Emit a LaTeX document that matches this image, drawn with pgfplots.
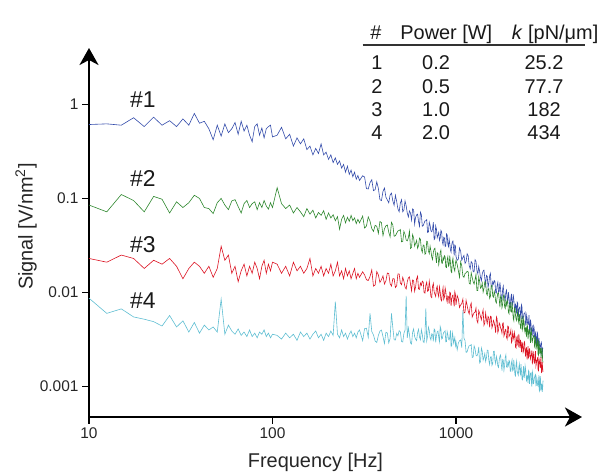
\documentclass[border=0pt]{standalone}
\usepackage{fontspec}
\setmainfont{Liberation Sans}
\usepackage{pgfplots}
\pgfplotsset{compat=1.18}
\usepackage{pgfplotstable}
\usetikzlibrary{arrows.meta}
\definecolor{cb}{RGB}{50,75,170}
\definecolor{cg}{RGB}{45,135,45}
\definecolor{cr}{RGB}{220,20,35}
\definecolor{cc}{RGB}{95,190,210}
\pgfplotstableread{
f b g r c
10 0.61 0.085 0.023 0.0087
12.5 0.62 0.072 0.021 0.0060
15 0.60 0.110 0.025 0.0067
17.5 0.72 0.095 0.023 0.0055
20 0.58 0.072 0.018 0.0052
22.5 0.73 0.105 0.022 0.0049
25 0.60 0.098 0.020 0.0044
27.5 0.67 0.070 0.023 0.0057
30 0.58 0.092 0.019 0.0043
32.5 0.70 0.080 0.014 0.0050
35 0.60 0.090 0.018 0.0038
37.5 0.80 0.108 0.021 0.0048
40 0.63 0.100 0.019 0.0037
42.5 0.66 0.080 0.016 0.0045
45 0.55 0.078 0.019 0.0040
47.5 0.42 0.069 0.0145 0.0043
50 0.60 0.090 0.018 0.0038
52.5 0.46 0.100 0.031 0.0085
55 0.62 0.085 0.022 0.0036
57.5 0.50 0.076 0.025 0.0045
60 0.55 0.094 0.016 0.0039
62.5 0.64 0.097 0.019 0.0036
65 0.48 0.082 0.013 0.0041
67.5 0.66 0.070 0.017 0.0035
70 0.52 0.088 0.020 0.0038
72.5 0.60 0.095 0.015 0.0034
75 0.47 0.080 0.019 0.0040
77.5 0.40 0.088 0.016 0.0034
80 0.58 0.092 0.021 0.0037
82.5 0.62 0.076 0.018 0.0033
85 0.47 0.090 0.014 0.0038
87.5 0.56 0.080 0.019 0.0036
90 0.44 0.095 0.022 0.0040
92.5 0.55 0.083 0.016 0.0034
95 0.58 0.077 0.020 0.0037
97.5 0.60 0.090 0.017 0.0033
100 0.45 0.080 0.021 0.0036
106 0.47 0.130 0.020 0.0035
112 0.57 0.088 0.016 0.0032
118 0.43 0.078 0.019 0.0037
124 0.48 0.085 0.015 0.0033
130 0.36 0.070 0.021 0.0036
136 0.44 0.080 0.017 0.0031
142 0.38 0.072 0.019 0.0038
148 0.43 0.064 0.016 0.0034
154 0.33 0.078 0.018 0.0037
160 0.36 0.068 0.023 0.0032
166 0.29 0.075 0.015 0.0036
172 0.34 0.062 0.018 0.0039
178 0.30 0.071 0.016 0.0033
184 0.38 0.066 0.019 0.0036
190 0.29 0.074 0.015 0.0031
196 0.31 0.060 0.018 0.0037
202 0.26 0.070 0.016 0.0034
208 0.29 0.062 0.020 0.0039
214 0.24 0.067 0.015 0.0035
220 0.27 0.058 0.017 0.0080
226 0.23 0.064 0.021 0.0036
232 0.25 0.047 0.015 0.0033
238 0.21 0.060 0.017 0.0040
244 0.23 0.066 0.014 0.0034
250 0.19 0.055 0.018 0.0037
256 0.22 0.063 0.015 0.0032
262 0.18 0.057 0.017 0.0036
268 0.20 0.066 0.014 0.0039
274 0.17 0.058 0.016 0.0034
280 0.19 0.062 0.018 0.0037
286 0.16 0.054 0.014 0.0033
292 0.175 0.060 0.016 0.0038
298 0.155 0.055 0.0145 0.0040
310 0.174 0.0649 0.0166 0.00308
317.5 0.169 0.0484 0.0154 0.00413
325 0.127 0.0508 0.0137 0.00417
332.5 0.126 0.0637 0.0134 0.00333
340 0.147 0.0572 0.0148 0.0060
347.5 0.158 0.0478 0.0174 0.00385
355 0.121 0.0446 0.0117 0.00354
362.5 0.124 0.0518 0.0120 0.00305
370 0.150 0.0505 0.0167 0.00294
377.5 0.128 0.0424 0.0154 0.0035
385 0.097 0.0568 0.0128 0.00389
392.5 0.0948 0.0553 0.0137 0.00399
400 0.119 0.0402 0.0150 0.00340
407.5 0.129 0.0475 0.0123 0.00287
415 0.103 0.0512 0.0133 0.00378
422.5 0.0965 0.0522 0.0161 0.00371
430 0.0898 0.0437 0.0159 0.00291
437.5 0.109 0.0390 0.0124 0.00326
445 0.114 0.0557 0.0117 0.0060
452.5 0.0941 0.0524 0.0140 0.00424
460 0.0846 0.0396 0.0140 0.00315
467.5 0.108 0.0401 0.0113 0.00312
475 0.0927 0.0426 0.0118 0.00368
482.5 0.0774 0.0452 0.0158 0.00347
490 0.0722 0.0456 0.0158 0.00392
497.5 0.0894 0.0468 0.0126 0.00382
505 0.0968 0.0345 0.0121 0.00301
512.5 0.0722 0.0349 0.0145 0.00298
520 0.0751 0.0446 0.0132 0.00368
527.5 0.0940 0.0415 0.0114 0.00396
535 0.0836 0.0362 0.0109 0.0092
542.5 0.0699 0.0354 0.0130 0.00329
550 0.0635 0.0381 0.0143 0.0042
557.5 0.0737 0.0449 0.0147 0.00357
565 0.0700 0.0294 0.0123 0.00291
572.5 0.0588 0.0301 0.0104 0.00284
580 0.0775 0.0413 0.0136 0.00378
587.5 0.0755 0.0381 0.0134 0.0041
595 0.0533 0.0312 0.0103 0.00340
602.5 0.0631 0.0333 0.0115 0.00319
610 0.0668 0.0358 0.0140 0.00308
617.5 0.0680 0.0295 0.0149 0.00375
625 0.0567 0.0314 0.0109 0.00406
632.5 0.0506 0.0379 0.0108 0.00336
640 0.0714 0.0367 0.0126 0.00315
647.5 0.0673 0.0287 0.0119 0.00403
655 0.0507 0.0267 0.0132 0.00361
662.5 0.0513 0.0320 0.0129 0.00301
670 0.0545 0.0316 0.00998 0.00294
677.5 0.0578 0.0255 0.00986 0.00364
685 0.0578 0.0261 0.0120 0.0068
692.5 0.0594 0.0350 0.0129 0.00308
700 0.0434 0.0345 0.0103 0.00342
707.5 0.0439 0.0276 0.0105 0.00428
715 0.0559 0.0259 0.0132 0.00396
722.5 0.0520 0.0310 0.0112 0.00331
730 0.0451 0.0278 0.00905 0.00313
737.5 0.0442 0.0239 0.00883 0.00364
745 0.0474 0.0224 0.0116 0.0036
752.5 0.0558 0.0267 0.0125 0.00302
760 0.0365 0.0289 0.0102 0.0041
767.5 0.0374 0.0296 0.00956 0.0040
775 0.0509 0.0244 0.00906 0.00295
782.5 0.0470 0.0207 0.0110 0.00349
790 0.0382 0.0265 0.0117 0.00382
797.5 0.0407 0.0260 0.0097 0.00389
805 0.0435 0.0198 0.0090 0.00335
812.5 0.0358 0.0222 0.0115 0.00299
820 0.0379 0.0267 0.0101 0.00436
827.5 0.0458 0.0283 0.00843 0.0041
835 0.0443 0.0206 0.00815 0.0032
842.5 0.0347 0.0204 0.0101 0.00324
850 0.0323 0.0235 0.0113 0.00356
857.5 0.0386 0.0222 0.00845 0.00378
865 0.0380 0.0246 0.00893 0.00382
872.5 0.0307 0.0240 0.0112 0.00392
880 0.0312 0.0186 0.0102 0.00298
887.5 0.0419 0.0184 0.00856 0.00301
895 0.0411 0.0223 0.00792 0.00384
902.5 0.0328 0.0240 0.00919 0.00357
910 0.0308 0.0191 0.0090 0.0032
917.5 0.0369 0.0196 0.00756 0.00313
925 0.0330 0.0246 0.0101 0.00337
932.5 0.0284 0.0209 0.00988 0.00396
940 0.0269 0.0167 0.00722 0.00267
947.5 0.0320 0.0163 0.00854 0.00274
955 0.0344 0.0214 0.00922 0.00374
962.5 0.0353 0.0232 0.0094 0.00346
970 0.0293 0.0189 0.0080 0.00291
977.5 0.0248 0.0177 0.00714 0.0031
985 0.0320 0.0169 0.0102 0.00332
992.5 0.0314 0.0205 0.00958 0.00273
1000 0.0241 0.0220 0.00739 0.00298
1015 0.0220 0.0198 0.00928 0.00246
1030 0.0226 0.0170 0.00856 0.00291
1045 0.0298 0.0145 0.00693 0.00307
1060 0.0275 0.0212 0.00739 0.00313
1075 0.0220 0.0192 0.00762 0.0026
1090 0.0235 0.0150 0.00851 0.0065
1105 0.0248 0.0145 0.00605 0.00327
1120 0.0204 0.0159 0.00619 0.00308
1135 0.0213 0.0162 0.00826 0.00231
1150 0.0258 0.0168 0.00728 0.00234
1165 0.0246 0.0166 0.00637 0.00257
1180 0.0193 0.0126 0.0059 0.00273
1195 0.0178 0.0123 0.00715 0.00273
1210 0.0213 0.0162 0.00774 0.0028
1225 0.0206 0.0145 0.00548 0.00204
1240 0.0166 0.0130 0.0058 0.00206
1255 0.0166 0.0123 0.0061 0.00271
1270 0.0223 0.0137 0.00616 0.00252
1285 0.0214 0.0156 0.00684 0.00216
1300 0.0171 0.0105 0.00504 0.00212
1315 0.0158 0.0105 0.00476 0.00224
1330 0.0189 0.0147 0.00644 0.00264
1345 0.0167 0.0132 0.00604 0.00178
1360 0.0144 0.0111 0.00553 0.00183
1375 0.0133 0.0114 0.00512 0.00257
1390 0.0158 0.0126 0.00594 0.00238
1405 0.0169 0.0101 0.00653 0.00191
1420 0.0173 0.0110 0.00448 0.00204
1435 0.0142 0.0130 0.00472 0.00225
1450 0.0120 0.0129 0.00604 0.00185
1465 0.0152 0.00981 0.00515 0.00202
1480 0.0149 0.00937 0.00468 0.00244
1495 0.0113 0.0109 0.00556 0.00242
1510 0.0126 0.0110 0.00536 0.00189
1525 0.0150 0.00865 0.00425 0.00172
1540 0.0160 0.00906 0.0056 0.00206
1555 0.0115 0.0118 0.00554 0.00208
1570 0.0114 0.0119 0.00421 0.00168
1585 0.0130 0.00922 0.00451 0.00176
1600 0.0123 0.00892 0.00504 0.00236
1615 0.0134 0.0103 0.00479 0.00238
1630 0.0131 0.0095 0.00432 0.0019
1645 0.00998 0.0080 0.00373 0.00175
1660 0.00986 0.00773 0.00552 0.00209
1675 0.0119 0.0089 0.00527 0.00192
1690 0.0128 0.00988 0.00374 0.00165
1705 0.0101 0.00992 0.0040 0.0016
1720 0.0103 0.00844 0.00475 0.0019
1735 0.0128 0.00697 0.0046 0.00211
1750 0.0109 0.00918 0.00417 0.00217
1765 0.00863 0.0088 0.00403 0.00175
1780 0.00842 0.00689 0.0037 0.00148
1795 0.0108 0.00744 0.00472 0.00194
1810 0.0117 0.00912 0.00476 0.00191
1825 0.00941 0.00944 0.00344 0.00149
1840 0.00883 0.00702 0.0036 0.00167
1855 0.00827 0.00676 0.00406 0.00205
1870 0.0101 0.00798 0.00402 0.00218
1885 0.0106 0.00733 0.00334 0.00162
1900 0.00874 0.00829 0.00319 0.0016
1915 0.00792 0.00785 0.0044 0.00179
1930 0.0101 0.00619 0.00437 0.00168
1945 0.00886 0.00595 0.0034 0.0019
1960 0.0074 0.00735 0.00352 0.00185
1975 0.00706 0.00768 0.00364 0.00146
1990 0.00874 0.00626 0.00396 0.00145
2005 0.00968 0.0062 0.00294 0.00179
2020 0.00722 0.00792 0.00305 0.00192
2035 0.0076 0.00653 0.00377 0.00147
2050 0.00952 0.00531 0.0034 0.0015
2065 0.00847 0.00502 0.0032 0.00192
2080 0.00708 0.0067 0.00376 0.00163
2095 0.00644 0.0069 0.00346 0.00133
2110 0.00747 0.00572 0.00262 0.0013
2125 0.0071 0.00519 0.00257 0.00173
2140 0.00596 0.00502 0.00329 0.00187
2155 0.00787 0.00589 0.00342 0.00146
2170 0.00766 0.00638 0.00279 0.00137
2185 0.00549 0.00509 0.0027 0.00132
2200 0.0065 0.00477 0.00363 0.00161
2215 0.00689 0.00587 0.00305 0.00174
2230 0.00702 0.00525 0.00258 0.00144
2245 0.00586 0.00421 0.00314 0.00135
2260 0.00523 0.00412 0.00277 0.00173
2275 0.00738 0.0050 0.00232 0.00144
2290 0.00695 0.00566 0.00294 0.0012
2305 0.00525 0.00405 0.00284 0.00118
2320 0.00531 0.00437 0.0023 0.00146
2335 0.00564 0.00524 0.00239 0.00165
2350 0.00599 0.00484 0.00294 0.00123
2365 0.0060 0.00396 0.0030 0.00133
2380 0.00616 0.00374 0.00235 0.00167
2395 0.00451 0.00424 0.00208 0.00154
2410 0.00456 0.0042 0.00255 0.00129
2425 0.00576 0.00336 0.00259 0.00113
2440 0.00536 0.00456 0.00194 0.00131
2455 0.0047 0.00433 0.00223 0.0013
2470 0.0046 0.0032 0.00269 0.00109
2485 0.0049 0.00369 0.00202 0.00148
2500 0.00576 0.00403 0.00209 0.00144
2515 0.00373 0.0040 0.00255 0.00107
2530 0.00382 0.00344 0.00235 0.00126
2545 0.00515 0.00291 0.00198 0.00138
2560 0.00475 0.00424 0.00211 0.0014
2575 0.00382 0.00388 0.00216 0.00112
2590 0.00407 0.00303 0.00242 0.0010
2605 0.00428 0.00297 0.00176 0.00145
2620 0.00352 0.00327 0.00181 0.00137
2635 0.00365 0.00336 0.00236 0.00107
2650 0.00441 0.00349 0.00208 0.00108
2665 0.00426 0.00347 0.0019 0.00119
2680 0.00333 0.00264 0.00176 0.00126
2695 0.0031 0.00258 0.0022 0.00131
2710 0.00371 0.00339 0.00238 0.00134
2725 0.00354 0.00305 0.00165 0.00102
2740 0.00286 0.00273 0.00175 0.00103
2755 0.00282 0.00258 0.0019 0.00124
2770 0.00378 0.00286 0.00192 0.00116
2785 0.00369 0.00324 0.00205 0.00103
2800 0.00295 0.00219 0.00151 0.00101
2815 0.00276 0.00216 0.00148 0.00112
2830 0.0033 0.00304 0.002 0.00132
2845 0.00293 0.0027 0.00191 0.00089
2860 0.00252 0.00228 0.00175 0.00091
2875 0.00235 0.00233 0.00158 0.00129
2890 0.0028 0.00257 0.00184 0.00119
2905 0.00289 0.00202 0.00206 0.00091
2920 0.00296 0.00221 0.00141 0.00097
2935 0.00243 0.00255 0.00142 0.00107
2950 0.00205 0.00253 0.00182 0.00088
2965 0.00259 0.00189 0.00158 0.00096
2980 0.00254 0.00181 0.00144 0.00116
}\psd

\begin{document}
\begin{tikzpicture}
\begin{axis}[
  at={(0,0)}, anchor=south west,
  scale only axis, width=493bp, height=369bp,
  xmode=log, ymode=log,
  xmin=10, xmax=4860, ymin=4.75e-4, ymax=3.97,
  enlargelimits=false, clip=false,
  axis lines=left,
  axis line style={line width=2.4bp, black, -{Stealth[length=17bp,width=19bp,inset=5bp]}},
  tick align=outside,
  major tick length=7bp,
  xminorticks=false, yminorticks=false,
  tick style={line width=1.6bp, black},
  xtick={10,100,1000}, xticklabels={10,100,1000},
  ytick={0.001,0.01,0.1,1}, yticklabels={0.001,0.01,0.1,1},
  /pgf/number format/assume math mode=true,
  ticklabel style={font=\fontsize{15.5}{18}\selectfont, text=black!85},
  xlabel={Frequency [Hz]},
  ylabel={Signal [V/nm\textsuperscript{2}]},
  label style={font=\fontsize{20}{24}\selectfont, text=black!85},
  xlabel style={at={(axis description cs:0.4594,-0.1355)}, anchor=base},
  ylabel style={at={(axis description cs:-0.1142,0.516)}, anchor=base},
]
\addplot[cb, line width=0.6bp] table[x=f, y=b] {\psd};
\addplot[cg, line width=0.6bp] table[x=f, y=g] {\psd};
\addplot[cr, line width=0.6bp] table[x=f, y=r] {\psd};
\addplot[cc, line width=0.6bp] table[x=f, y=c] {\psd};

\begin{scope}[every node/.style={font=\fontsize{23}{27}\selectfont, text=black!90, anchor=base west, inner sep=0pt}]
\node at (axis description cs:0.083,0.840) {\#1};
\node at (axis description cs:0.083,0.626) {\#2};
\node at (axis description cs:0.083,0.447) {\#3};
\node at (axis description cs:0.083,0.295) {\#4};
\end{scope}

\begin{scope}[every node/.style={font=\fontsize{20}{24}\selectfont, text=black!90, anchor=base, inner sep=0pt}]
\node at (axis description cs:0.5818,1.0217) {\#};
\node at (axis description cs:0.7248,1.0217) {Power [W]};
\node[anchor=base west] at (axis description cs:0.8573,1.0217) {\textit{k} [pN/μm]};
\node at (axis description cs:0.5842,0.9404) {1};
\node at (axis description cs:0.5842,0.8772) {2};
\node at (axis description cs:0.5842,0.8138) {3};
\node at (axis description cs:0.5842,0.7507) {4};
\node at (axis description cs:0.704,0.9404) {0.2};
\node at (axis description cs:0.704,0.8772) {0.5};
\node at (axis description cs:0.704,0.8138) {1.0};
\node at (axis description cs:0.704,0.7507) {2.0};
\node at (axis description cs:0.923,0.9404) {25.2};
\node at (axis description cs:0.923,0.8772) {77.7};
\node at (axis description cs:0.923,0.8138) {182};
\node at (axis description cs:0.923,0.7507) {434};
\end{scope}
\draw[line width=1.3bp, black!80] (axis description cs:0.555,1.008) -- (axis description cs:1.0061,1.008);
\end{axis}
\pgfresetboundingbox
\useasboundingbox (-89bp,-57bp) rectangle (509bp,417bp);
\end{tikzpicture}
\end{document}
